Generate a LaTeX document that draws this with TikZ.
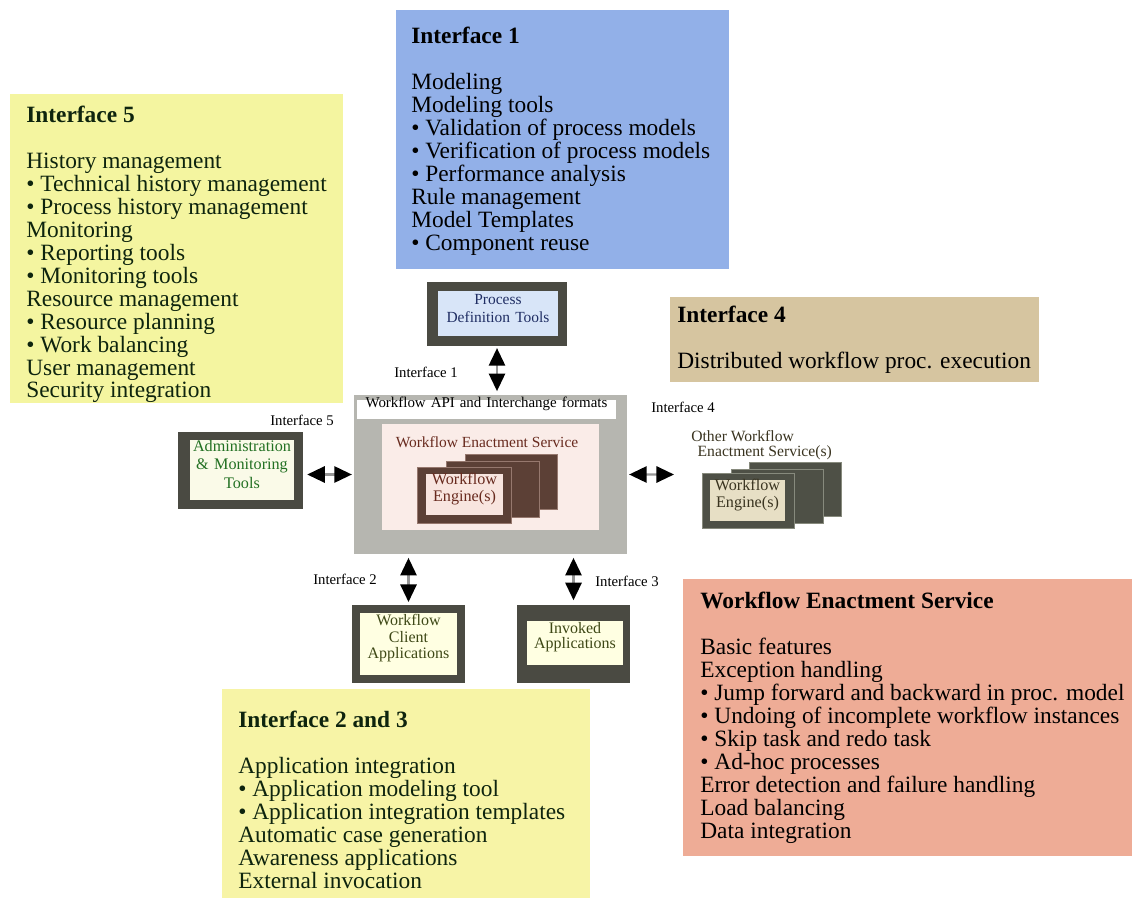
\documentclass[tikz,border=0pt]{standalone}
\usepackage{fontspec}
\setmainfont{Liberation Serif}
\usetikzlibrary{arrows.meta,fit,calc}

% panel and frame colours
\definecolor{ifblue}{RGB}{146,176,232}
\definecolor{ifyellow}{RGB}{244,245,160}
\definecolor{ifyellowb}{RGB}{247,244,166}
\definecolor{iftan}{RGB}{214,197,160}
\definecolor{ifsalmon}{RGB}{238,172,150}
\definecolor{greentext}{RGB}{14,36,14}
\definecolor{coregray}{RGB}{182,182,176}
\definecolor{framedark}{RGB}{74,74,66}
\definecolor{pdtfill}{RGB}{216,229,248}
\definecolor{pdttext}{RGB}{32,46,100}
\definecolor{admfill}{RGB}{250,250,232}
\definecolor{admtext}{RGB}{34,112,34}
\definecolor{appfill}{RGB}{255,255,226}
\definecolor{apptext}{RGB}{62,72,22}
\definecolor{wespink}{RGB}{250,236,232}
\definecolor{westext}{RGB}{104,42,30}
\definecolor{engdark}{RGB}{92,64,54}
\definecolor{engedge}{RGB}{150,120,110}
\definecolor{engfill}{RGB}{248,229,223}
\definecolor{othdark}{RGB}{78,80,70}
\definecolor{othedge}{RGB}{135,138,125}
\definecolor{othfill}{RGB}{231,223,197}
\definecolor{othtext}{RGB}{58,52,32}
\definecolor{shaftgray}{RGB}{150,150,150}

% list bullet
\newcommand{\itembul}{\textbullet\ }

\begin{document}
\begin{tikzpicture}[x=0.02cm, y=-0.02cm,
  rect/.style={inner sep=0pt, draw=none},
  bigtext/.style={inner sep=0pt, anchor=north west, align=left,
    font=\fontsize{13.3}{13.05}\selectfont},
  small/.style={inner sep=0pt, font=\fontsize{8.4}{9.6}\selectfont},
  boxtext/.style={align=center, font=\fontsize{8.7}{9.8}\selectfont},
  dbl/.style={draw=shaftgray, line width=1.3pt,
    {Triangle[width=9.2pt,length=10pt,color=black]}-{Triangle[width=9.2pt,length=10pt,color=black]}}
]
\useasboundingbox (0,0) rectangle (1132,898);
\fill[white] (0,0) rectangle (1132,898);

% ---------- description panels ----------
\node[rect, fill=ifblue, fit={(396,10) (729,269)}] (p1) {};
\node[bigtext] (p1t) at (411,27) {\textbf{Interface 1}\\[13.05pt]
Modeling\\
Modeling tools\\
\itembul Validation of process models\\
\itembul Verification of process models\\
\itembul Performance analysis\\
Rule management\\
Model Templates\\
\itembul Component reuse};

\node[rect, fill=ifyellow, fit={(10,94) (343,403)}] (p5) {};
\node[bigtext, text=greentext] (p5t) at (26,106) {\textbf{Interface 5}\\[13.05pt]
History management\\
\itembul Technical history management\\
\itembul Process history management\\
Monitoring\\
\itembul Reporting tools\\
\itembul Monitoring tools\\
Resource management\\
\itembul Resource planning\\
\itembul Work balancing\\
User management\\
Security integration};

\node[rect, fill=iftan, fit={(670,297) (1039,382)}] (p4) {};
\node[bigtext] (p4t) at (677,306) {\textbf{Interface 4}\\[13.05pt]
Distributed workflow proc. execution};

\node[rect, fill=ifsalmon, fit={(683,579) (1132,856)}] (pw) {};
\node[bigtext] (pwt) at (700,592) {\textbf{Workflow Enactment Service}\\[13.05pt]
Basic features\\
Exception handling\\
\itembul Jump forward and backward in proc. model\\
\itembul Undoing of incomplete workflow instances\\
\itembul Skip task and redo task\\
\itembul Ad-hoc processes\\
Error detection and failure handling\\
Load balancing\\
Data integration};

\node[rect, fill=ifyellowb, fit={(222,689) (590,898)}] (p23) {};
\node[bigtext, text=greentext] (p23t) at (238,711) {\textbf{Interface 2 and 3}\\[13.05pt]
Application integration\\
\itembul Application modeling tool\\
\itembul Application integration templates\\
Automatic case generation\\
Awareness applications\\
External invocation};

% ---------- workflow enactment core ----------
\node[rect, fill=coregray, fit={(354,395) (627,554)}] (wfms) {};
\node[rect, fill=white, fit={(357,400) (616,419)}, boxtext,
  font=\fontsize{8.5}{9.8}\selectfont] (api)
  {Workflow API and Interchange formats};
\node[rect, fill=wespink, fit={(382,424) (599,530)}] (wes) {};
\node[small, text=westext, font=\fontsize{8.8}{9.8}\selectfont] (weslabel) at (487,442)
  {Workflow Enactment Service};

% stacked engines
\node[rect, fill=engdark, draw=engedge, line width=0.4pt, fit={(465,454) (557,509)}] (eng3) {};
\node[rect, fill=engdark, draw=engedge, line width=0.4pt, fit={(446,461) (539,517)}] (eng2) {};
\node[rect, fill=engdark, draw=engedge, line width=0.4pt, fit={(417,467) (511,523)}] (eng1) {};
\node[rect, fill=engfill, fit={(426,474) (503,515)}, boxtext, text=westext,
  font=\fontsize{9.2}{9.6}\selectfont] (eng1in) {Workflow\\Engine(s)};

% ---------- surrounding tools ----------
\node[rect, fill=framedark, fit={(427,282) (567,346)}] (pdt) {};
\node[rect, fill=pdtfill, fit={(438,291) (558,336)}, boxtext, text=pdttext,
  font=\fontsize{8.8}{10.2}\selectfont] (pdtin) {Process\\Definition Tools};

\node[rect, fill=framedark, fit={(178,432) (303,509)}] (adm) {};
\node[rect, fill=admfill, fit={(190,440) (294,500)}, boxtext, text=admtext,
  font=\fontsize{9.2}{10.4}\selectfont] (admin) {Administration\\\& Monitoring\\Tools};

\node[rect, fill=framedark, fit={(352,605) (465,683)}] (wca) {};
\node[rect, fill=appfill, fit={(360,613) (457,675)}, boxtext, text=apptext,
  font=\fontsize{9.1}{9.5}\selectfont] (wcain) {Workflow\\Client\\Applications};

\node[rect, fill=framedark, fit={(517,605) (630,683)}] (inv) {};
\node[rect, fill=appfill, fit={(527,621) (623,665)}, boxtext, text=apptext,
  font=\fontsize{9.1}{8.6}\selectfont] (invin) {Invoked\\Applications};

% other enactment services
\node[small, text=othtext, align=left, font=\fontsize{8.9}{8.6}\selectfont, anchor=west]
  (othlabel) at (691,445) {Other Workflow\\\hspace*{3.6pt}Enactment Service(s)};
\node[rect, fill=othdark, draw=othedge, line width=0.4pt, fit={(749,462) (841,516)}] (oth3) {};
\node[rect, fill=othdark, draw=othedge, line width=0.4pt, fit={(731,469) (823,523)}] (oth2) {};
\node[rect, fill=othdark, draw=othedge, line width=0.4pt, fit={(702,473) (794,528)}] (oth1) {};
\node[rect, fill=othfill, fit={(710,480) (785,521)}, boxtext, text=othtext,
  font=\fontsize{9.2}{9.6}\selectfont] (oth1in) {Workflow\\Engine(s)};
\coordinate (othend) at (674,474.5);

% ---------- interface labels ----------
\node[small] (l1) at (426,372) {Interface 1};
\node[small] (l5) at (302,420) {Interface 5};
\node[small] (l4) at (683,407) {Interface 4};
\node[small] (l2) at (345,579) {Interface 2};
\node[small] (l3) at (627,581) {Interface 3};

% ---------- interface connectors ----------
\draw[dbl, shorten <=1pt, shorten >=2pt] (pdt.south) -- (pdt.south |- wfms.north);
\draw[dbl, shorten <=2.2pt, shorten >=1pt] (adm.east |- wfms.west) -- (wfms.west);
\draw[dbl, shorten <=1pt] (wfms.east) -- (othend);
\draw[dbl, shorten <=2pt, shorten >=1.5pt] (wca.north |- wfms.south) -- (wca.north);
\draw[dbl, shorten <=2pt, shorten >=2.5pt] (inv.north |- wfms.south) -- (inv.north);
\end{tikzpicture}
\end{document}
